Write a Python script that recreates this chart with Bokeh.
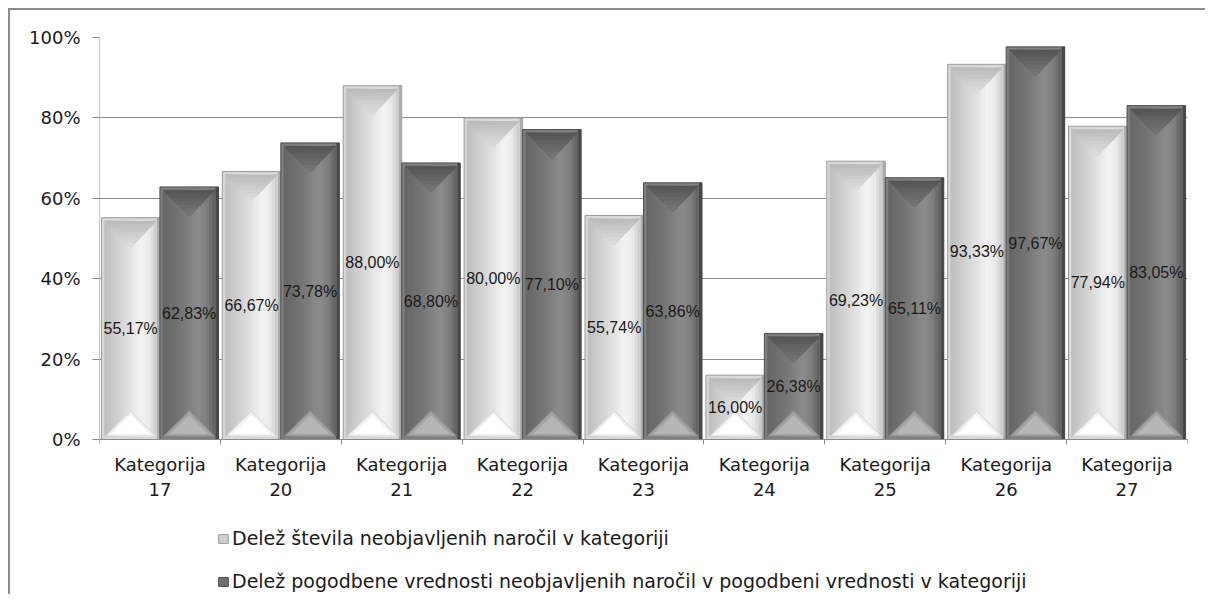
import math
from bokeh.plotting import figure
from bokeh.models import Range1d, FixedTicker, Legend, LegendItem
from bokeh.core.properties import value
from bokeh.embed import file_html
from bokeh.resources import INLINE

# ---------------- data ----------------
categories = ["Kategorija\n17", "Kategorija\n20", "Kategorija\n21", "Kategorija\n22",
              "Kategorija\n23", "Kategorija\n24", "Kategorija\n25", "Kategorija\n26",
              "Kategorija\n27"]
share_count = [55.17, 66.67, 88.00, 80.00, 55.74, 16.00, 69.23, 93.33, 77.94]
share_value = [62.83, 73.78, 68.80, 77.10, 63.86, 26.38, 65.11, 97.67, 83.05]
y_ticks = [0, 20, 40, 60, 80, 100]
y_tick_labels = ["0%", "20%", "40%", "60%", "80%", "100%"]
series_names = ["Delež števila neobjavljenih naročil v kategoriji",
                "Delež pogodbene vrednosti neobjavljenih naročil v pogodbeni vrednosti v kategoriji"]

AXIS_FONT = "DejaVu Sans"
VALUE_FONT = "Liberation Sans"
n = len(categories)
W, H = 1197, 586
M_LEFT, M_RIGHT, M_TOP, M_BOTTOM = 89, 20, 27, 0
FRAME_W = W - M_LEFT - M_RIGHT          # 1088
FRAME_H = H - M_TOP - M_BOTTOM          # frame runs down to the canvas bottom
PLOT_H = 402                            # pixel height of 0..100 %
PX_X = FRAME_W / n
PX_Y = PLOT_H / float(y_ticks[-1] - y_ticks[0])
y_min = y_ticks[-1] - FRAME_H / PX_Y    # room below 0 for axis labels and legend

p = figure(width=W, height=H, output_backend="svg", toolbar_location=None,
           x_range=Range1d(0, n), y_range=Range1d(y_min, y_ticks[-1]),
           min_border_left=M_LEFT, min_border_right=M_RIGHT,
           min_border_top=M_TOP, min_border_bottom=M_BOTTOM)
p.styles = {"border-top": "2px solid #8c8c8c", "border-left": "2px solid #8c8c8c",
            "margin-left": "8px", "margin-top": "8px"}
p.outline_line_color = None
p.background_fill_color = "white"
p.border_fill_color = "white"

# ---------------- axes ----------------
p.xaxis.fixed_location = y_ticks[0]
p.xaxis.ticker = FixedTicker(ticks=[i + 0.5 for i in range(n)], minor_ticks=list(range(n + 1)))
p.xaxis.major_label_overrides = {i + 0.5: categories[i] for i in range(n)}
p.xaxis.major_tick_line_color = None
p.xaxis.major_tick_out = 0
p.xaxis.major_tick_in = 0
p.xaxis.minor_tick_line_color = "#8c8c8c"
p.xaxis.minor_tick_in = 0
p.xaxis.minor_tick_out = 5
p.xaxis.axis_line_color = "#8c8c8c"
p.xaxis.major_label_text_font = AXIS_FONT
p.xaxis.major_label_text_font_size = "18px"
p.xaxis.major_label_text_color = "#1a1a1a"
p.xaxis.major_label_standoff = 9

p.yaxis.ticker = FixedTicker(ticks=y_ticks, minor_ticks=[])
p.yaxis.major_label_overrides = {t: l for t, l in zip(y_ticks, y_tick_labels)}
p.yaxis.major_tick_line_color = "#8c8c8c"
p.yaxis.major_tick_out = 7
p.yaxis.major_tick_in = 0
p.yaxis.minor_tick_line_color = None
p.yaxis.axis_line_color = None
p.yaxis.major_label_text_font = AXIS_FONT
p.yaxis.major_label_text_font_size = "18px"
p.yaxis.major_label_text_color = "#1a1a1a"
p.yaxis.major_label_standoff = 12

p.xgrid.visible = False
p.ygrid.ticker = FixedTicker(ticks=y_ticks)
p.ygrid.grid_line_color = "#8c8c8c"

# value axis line only over the 0..100 % span
p.segment(x0=[0], y0=[y_ticks[0]], x1=[0], y1=[y_ticks[-1]], line_color="#8c8c8c", line_width=1)

# ---------------- beveled bars ----------------
HALF_W = 0.242
RIM_X = 3.0 / PX_X
RIM_Y = 3.0 / PX_Y
N_STRIPES = 18
OVERLAP = 0.8 / PX_X


def gray(v):
    v = int(max(0, min(255, round(v))))
    return "#%02x%02x%02x" % (v, v, v)


def profile(t, pts):
    for (t0, v0), (t1, v1) in zip(pts[:-1], pts[1:]):
        if t0 <= t <= t1:
            return v0 + (v1 - v0) * (t - t0) / (t1 - t0)
    return pts[-1][1]


styles = [
    dict(offset=0.258, rim="#d8d8d8", outline="#9a9a9a",
         prof=[(0, 190), (0.35, 215), (0.7, 243), (0.85, 236), (1, 200)],
         top=(188, 222), bottom=["#dcdcdc", "#f4f4f4", "#ffffff"],
         right_edge="#ababab", legend_fill="#d0d0d0", legend_line="#9a9a9a"),
    dict(offset=0.742, rim="#808080", outline="#4c4c4c",
         prof=[(0, 102), (0.35, 118), (0.68, 140), (0.85, 126), (1, 94)],
         top=(86, 118), bottom=["#949494", "#a4a4a4", "#b6b6b6"],
         right_edge="#474747", legend_fill="#707070", legend_line="#4c4c4c"),
]
series = [share_count, share_value]
TOP_LAYERS = 7


def scale_about(xs, ys, f, cx, cy):
    return [cx + (x - cx) * f for x in xs], [cy + (y - cy) * f for y in ys]


legend_renderers = []
for vals, st in zip(series, styles):
    centers = [i + st["offset"] for i in range(n)]
    # outer rim with outline
    p.quad(left=[c - HALF_W for c in centers], right=[c + HALF_W for c in centers],
           top=vals, bottom=[0] * n, fill_color=st["rim"], line_color=st["outline"], line_width=1)
    # right dark edge
    p.quad(left=[c + HALF_W - RIM_X for c in centers], right=[c + HALF_W for c in centers],
           top=vals, bottom=[0] * n, fill_color=st["right_edge"], line_color=None)
    # body gradient stripes
    L, R, T, B, C = [], [], [], [], []
    for c, v in zip(centers, vals):
        x0 = c - HALF_W + RIM_X
        x1 = c + HALF_W - RIM_X
        dw = (x1 - x0) / N_STRIPES
        for k in range(N_STRIPES):
            t = (k + 0.5) / N_STRIPES
            L.append(x0 + k * dw)
            R.append(min(x1, x0 + (k + 1) * dw + OVERLAP))
            T.append(v - RIM_Y)
            B.append(RIM_Y)
            C.append(gray(profile(t, st["prof"])))
    p.quad(left=L, right=R, top=T, bottom=B, fill_color=C, line_color=C, line_width=0.5)
    # top face: inverted triangle, darker at the top edge, lighter toward its tip
    half_inner_px = (HALF_W - RIM_X) * PX_X
    depth = half_inner_px / PX_Y
    g0, g1 = st["top"]
    for layer in range(TOP_LAYERS):
        f = 1.0 - layer / float(TOP_LAYERS)
        col_t = gray(g0 + (g1 - g0) * layer / float(TOP_LAYERS - 1))
        xs_l, ys_l = [], []
        for c, v in zip(centers, vals):
            tip_y = v - RIM_Y - depth
            xs = [c - HALF_W + RIM_X, c + HALF_W - RIM_X, c]
            ys = [v - RIM_Y, v - RIM_Y, tip_y]
            xs, ys = scale_about(xs, ys, f, c, tip_y)
            xs_l.append(xs)
            ys_l.append(ys)
        p.patches(xs=xs_l, ys=ys_l, fill_color=col_t, line_color=None)
    # bottom face: triangle
    for layer, col_b in enumerate(st["bottom"]):
        f = [1.0, 0.9, 0.72][layer]
        xs_l, ys_l = [], []
        for c, v in zip(centers, vals):
            xs = [c - HALF_W + RIM_X, c + HALF_W - RIM_X, c]
            ys = [RIM_Y, RIM_Y, RIM_Y + depth]
            cx, cy = sum(xs) / 3.0, sum(ys) / 3.0
            xs, ys = scale_about(xs, ys, f, cx, cy)
            xs_l.append(xs)
            ys_l.append(ys)
        p.patches(xs=xs_l, ys=ys_l, fill_color=col_b, line_color=None)
    # value labels
    labels = [("%.2f" % v).replace(".", ",") + "%" for v in vals]
    p.text(x=centers, y=[v / 2.0 for v in vals], text=labels,
           text_font=value(VALUE_FONT), text_font_size="16px", text_align="center",
           text_baseline="middle", text_color="#1a1a1a")
    # legend proxy renderer (no visible data)
    r = p.vbar(x=[centers[0]], top=[float("nan")], width=0.1,
               fill_color=st["legend_fill"], line_color=st["legend_line"])
    legend_renderers.append(r)

legend = Legend(items=[LegendItem(label=series_names[k], renderers=[legend_renderers[k]])
                       for k in range(2)],
                location=(118, 4), orientation="vertical")
legend.label_text_font = AXIS_FONT
legend.label_text_font_size = "19px"
legend.label_text_color = "#1a1a1a"
legend.glyph_width = 12
legend.glyph_height = 11
legend.label_height = 20
legend.label_standoff = 3
legend.spacing = 21
legend.padding = 0
legend.margin = 0
legend.border_line_color = None
legend.background_fill_alpha = 0
p.add_layout(legend, "center")

open("out.html", "w").write(file_html(p, INLINE))
